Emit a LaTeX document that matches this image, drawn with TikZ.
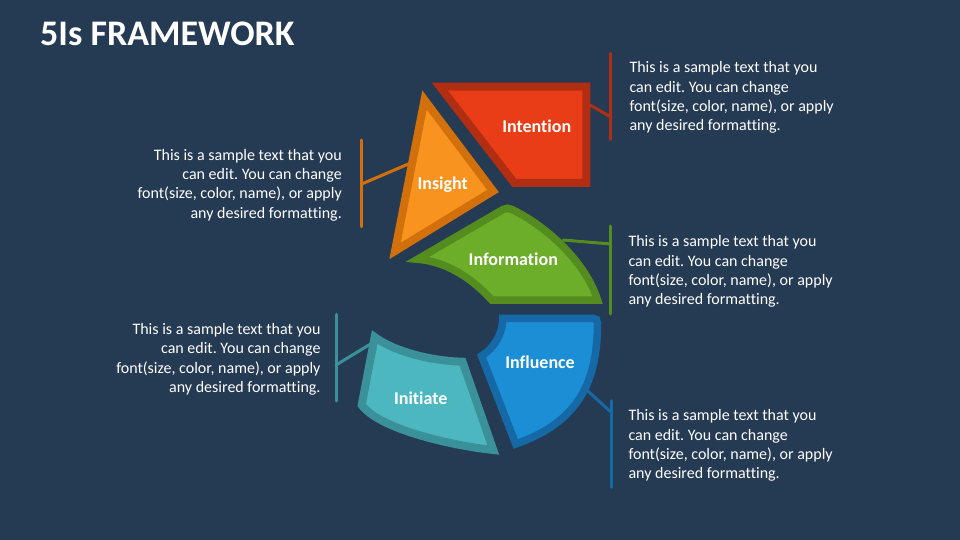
\documentclass[tikz,border=0pt]{standalone}
\usepackage{fontspec}
\setmainfont{Carlito}[Ligatures=NoCommon]
\definecolor{bg}{HTML}{253A53}
\definecolor{redF}{HTML}{E83D16}
\definecolor{redD}{HTML}{B22E13}
\definecolor{orF}{HTML}{F7931E}
\definecolor{orD}{HTML}{D2700B}
\definecolor{grF}{HTML}{6CAE2A}
\definecolor{grD}{HTML}{558C1F}
\definecolor{blF}{HTML}{1B8ED6}
\definecolor{blD}{HTML}{1569A6}
\definecolor{tlF}{HTML}{4DB7C0}
\definecolor{tlD}{HTML}{3A9199}
\begin{document}
\frenchspacing
\begin{tikzpicture}[x=1pt,y=-1pt,
  seg/.style={line width=8pt, line join=miter, miter limit=12},
  lab/.style={text=white, font=\bfseries\fontsize{18}{20}\selectfont, inner sep=0pt},
  body/.style={text=white, font=\frenchspacing\fontsize{16}{19.3}\selectfont, inner sep=0pt},
  conn/.style={line width=3pt, line cap=round}]
\fill[bg] (0,0) rectangle (960,540);
\useasboundingbox (0,0) rectangle (960,540);

% title
\node[text=white, font=\bfseries\fontsize{36}{40}\selectfont, inner sep=0pt, anchor=base west] (title) at (40,45.5) {5Is FRAMEWORK};

% connector points
\coordinate (c1s) at (590,105);   \coordinate (c1b) at (610.3,116.7);
\coordinate (b1t) at (610.3,53.3); \coordinate (b1b) at (610.3,139.3);
\coordinate (c2s) at (410,163.3); \coordinate (c2b) at (361.7,184);
\coordinate (b2t) at (361.7,140); \coordinate (b2b) at (361.7,226.7);
\coordinate (c3s) at (563,240);   \coordinate (c3b) at (610.7,244);
\coordinate (b3t) at (610.7,226); \coordinate (b3b) at (610.7,314);
\coordinate (c4s) at (586.7,390); \coordinate (c4b) at (611.7,412.7);
\coordinate (b4t) at (611.7,400.7); \coordinate (b4b) at (611.7,487.3);
\coordinate (c5s) at (373.3,342.3); \coordinate (c5b) at (336,365);
\coordinate (b5t) at (336,314.3); \coordinate (b5b) at (336,401);

\draw[conn, redD] (c1s) -- (c1b); \draw[conn, redD] (b1t) -- (b1b);
\draw[conn, orD] (c2s) -- (c2b); \draw[conn, orD] (b2t) -- (b2b);
\draw[conn, grD] (c3s) -- (c3b); \draw[conn, grD] (b3t) -- (b3b);
\draw[conn, blD] (c4s) -- (c4b); \draw[conn, blD] (b4t) -- (b4b);
\draw[conn, tlD] (c5s) -- (c5b); \draw[conn, tlD] (b5t) -- (b5b);

% segments
\draw[seg, draw=redD, fill=redF] (439.9,86.7) -- (586.3,86.7) -- (586.3,182.8) -- (514.2,182.8) -- cycle;
\draw[seg, draw=orD, fill=orF] (424.5,100) -- (493,191) -- (395,251) -- cycle;
\draw[seg, line width=7.5pt, draw=grD, fill=grF] (417.5,259.3) -- (503,209.5)
   .. controls (506,207.8) and (509,207.8) .. (512,209.5)
   .. controls (548,227) and (586,263) .. (597.5,300) -- (491.7,300)
   .. controls (477,284) and (452,262) .. cycle;
\draw[seg, line width=7.5pt, draw=blD, fill=blF] (502.7,318.3) -- (593,318.3)
   .. controls (596,318.3) and (597.5,320) .. (597.5,323)
   .. controls (597.5,390) and (572,424) .. (515.8,444) -- (481.5,356)
   .. controls (493,349) and (502.7,335) .. cycle;
\draw[seg, draw=tlD, fill=tlF] (374.7,337) .. controls (395,352) and (432,361) .. (462.5,361.7)
   -- (493.3,450) .. controls (455,446) and (380,430) .. (361.7,405) -- cycle;

% labels
\node[lab] (intention) at (536.7,126) {Intention};
\node[lab] (insight) at (442.7,185) {Insight};
\node[lab] (information) at (513.3,259) {Information};
\node[lab] (influence) at (540,362.3) {Influence};
\node[lab] (initiate) at (420.7,398.3) {Initiate};

% texts
\node[body, align=left, anchor=north west] (t1) at (629.3,61.6) {This is a sample text that you\\can edit. You can change\\font(size, color, name), or apply\\any desired formatting.};
\node[body, align=right, anchor=north east] (t2) at (342,148.9) {This is a sample text that you\\can edit. You can change\\font(size, color, name), or apply\\any desired formatting.};
\node[body, align=left, anchor=north west] (t3) at (628.3,235.6) {This is a sample text that you\\can edit. You can change\\font(size, color, name), or apply\\any desired formatting.};
\node[body, align=left, anchor=north west] (t4) at (628.3,409.6) {This is a sample text that you\\can edit. You can change\\font(size, color, name), or apply\\any desired formatting.};
\node[body, align=right, anchor=north east] (t5) at (320.7,323.2) {This is a sample text that you\\can edit. You can change\\font(size, color, name), or apply\\any desired formatting.};
\end{tikzpicture}
\end{document}
